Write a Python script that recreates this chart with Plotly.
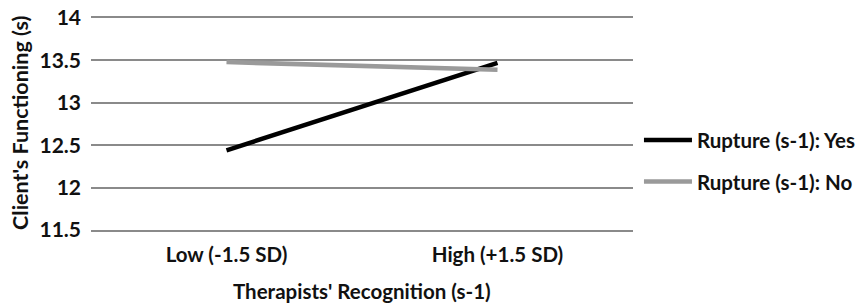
import plotly.graph_objects as go

categories = ["Low (-1.5 SD)", "High (+1.5 SD)"]
yes_values = [12.44, 13.47]
no_values = [13.48, 13.39]
series_names = ["Rupture (s-1): Yes", "Rupture (s-1): No"]
y_ticks = [11.5, 12, 12.5, 13, 13.5, 14]
y_tick_labels = ["11.5", "12", "12.5", "13", "13.5", "14"]
x_title = "Therapists' Recognition (s-1)"
y_title = "Client's Functioning (s)"

FONT = "Lato"
TXT = "#111111"
GRID = "#8a8a8a"

fig = go.Figure()
fig.add_trace(go.Scatter(x=categories, y=yes_values, mode="lines", name=series_names[0],
                         legendgroup="a", line=dict(color="#000000", width=4.5)))
fig.add_trace(go.Scatter(x=categories, y=no_values, mode="lines", name=series_names[1],
                         legendgroup="b", line=dict(color="#9a9a9a", width=4.5)))

fig.update_layout(
    width=862, height=305,
    margin=dict(l=91, r=229, t=18, b=75, autoexpand=False),
    paper_bgcolor="white", plot_bgcolor="white",
    font=dict(family=FONT, size=20, color=TXT, weight="bold"),
    legend=dict(x=1.011, y=0.325, xanchor="left", yanchor="middle",
                font=dict(family=FONT, size=20.5, color=TXT, weight="bold"),
                traceorder="grouped", tracegroupgap=12, itemwidth=48,
                bgcolor="rgba(0,0,0,0)"),
    xaxis=dict(type="category", range=[-0.5, 1.5], showgrid=False,
               showline=True, mirror=True, linecolor=GRID, linewidth=1.5,
               ticks="", zeroline=False, automargin=False, ticklabelstandoff=6,
               tickfont=dict(family=FONT, size=20.5, color=TXT, weight="bold")),
    yaxis=dict(range=[11.5, 14], tickvals=y_ticks, ticktext=y_tick_labels,
               showgrid=True, gridcolor=GRID, gridwidth=1.5,
               showline=False, zeroline=False, ticks="", ticklabelstandoff=9,
               automargin=False,
               tickfont=dict(family=FONT, size=21, color=TXT, weight="bold")),
    annotations=[
        dict(text=x_title, xref="paper", yref="paper", x=0.5, y=-0.288,
             xanchor="center", yanchor="middle", showarrow=False,
             font=dict(family=FONT, size=20.5, color=TXT, weight="bold")),
        dict(text=y_title, xref="paper", yref="paper", x=-0.131, y=0.505,
             xanchor="center", yanchor="middle", textangle=-90, showarrow=False,
             font=dict(family=FONT, size=21.5, color=TXT, weight="bold")),
    ],
)

fig.write_html(
    "out.html",
    config={"displayModeBar": False},
    post_script="document.body.style.margin='0';document.body.style.overflow='hidden';",
)
